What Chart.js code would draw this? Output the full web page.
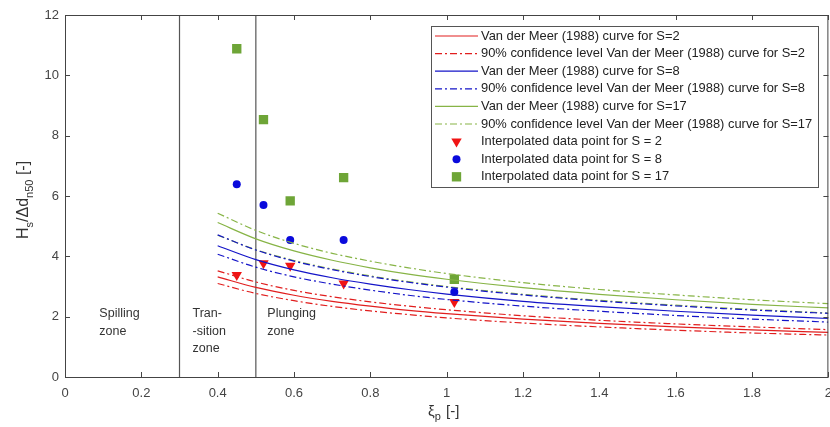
<!DOCTYPE html>
<html>
<head>
<meta charset="utf-8">
<script src="https://cdn.jsdelivr.net/npm/chart.js@4.4.0/dist/chart.umd.min.js"></script>
<style>
  html, body { margin: 0; padding: 0; background: #fff; overflow: hidden; }
  #wrap { width: 830px; height: 427px; overflow: hidden; }
</style>
</head>
<body>
<div id="wrap"><canvas id="grafica" width="841" height="427"></canvas></div>
<script>
// valores de xi (eje x) para las curvas
const xi = [0.4, 0.5, 0.6, 0.7, 0.8, 0.9, 1.0, 1.2, 1.4, 1.6, 1.8, 2.0];

// curvas Van der Meer (1988)
const rojo      = [3.32, 2.97, 2.71, 2.51, 2.35, 2.21, 2.10, 1.92, 1.78, 1.66, 1.56, 1.48];
const rojoSup   = [3.52, 3.15, 2.87, 2.66, 2.49, 2.35, 2.23, 2.03, 1.88, 1.76, 1.66, 1.57];
const rojoInf   = [3.10, 2.77, 2.53, 2.34, 2.19, 2.07, 1.96, 1.79, 1.66, 1.55, 1.46, 1.39];
const azul      = [4.35, 3.89, 3.55, 3.29, 3.08, 2.90, 2.75, 2.51, 2.33, 2.18, 2.05, 1.94];
const azulSup   = [4.71, 4.21, 3.84, 3.56, 3.33, 3.14, 2.98, 2.72, 2.52, 2.36, 2.22, 2.11];
const azulInf   = [4.07, 3.64, 3.32, 3.08, 2.88, 2.71, 2.57, 2.35, 2.18, 2.04, 1.92, 1.82];
const verde     = [5.12, 4.58, 4.18, 3.87, 3.62, 3.41, 3.24, 2.96, 2.74, 2.56, 2.41, 2.29];
const verdeSup  = [5.43, 4.86, 4.43, 4.10, 3.84, 3.62, 3.43, 3.13, 2.90, 2.72, 2.56, 2.43];
const verdeInf  = [4.70, 4.22, 3.86, 3.58, 3.35, 3.16, 3.00, 2.74, 2.54, 2.38, 2.24, 2.12];

// puntos interpolados
const xiPuntos  = [0.45, 0.52, 0.59, 0.73, 1.02];
const puntosS2  = [3.38, 3.77, 3.69, 3.10, 2.49];
const puntosS8  = [6.39, 5.70, 4.54, 4.54, 2.82];
const puntosS17 = [10.88, 8.53, 5.84, 6.61, 3.24];

// limites de zonas
const limitesZona = [0.3, 0.5];
const zonas = [
  { x: 0.09, lineas: ["Spilling", "zone"] },
  { x: 0.334, lineas: ["Tran-", "-sition", "zone"] },
  { x: 0.53, lineas: ["Plunging", "zone"] }
];

const xTicks = [0, 0.2, 0.4, 0.6, 0.8, 1, 1.2, 1.4, 1.6, 1.8, 2];
const yTicks = [0, 2, 4, 6, 8, 10, 12];

const ROJO = "rgb(225, 30, 30)";
const AZUL = "rgb(20, 20, 200)";
const VERDE = "rgb(135, 180, 70)";
const GUION_PUNTO = [7, 3, 2, 3];

const pares = (xs, ys) => xs.map((x, i) => ({ x: x, y: ys[i] }));

function curva(label, ys, color, dash) {
  return {
    label: label,
    data: pares(xi, ys),
    showLine: true,
    borderColor: color,
    backgroundColor: color,
    borderWidth: 1.2,
    borderDash: dash || [],
    pointRadius: 0,
    cubicInterpolationMode: "monotone",
    fill: false
  };
}

function marcadores(label, ys, color, estilo, radio, rot) {
  return {
    label: label,
    data: pares(xiPuntos, ys),
    showLine: false,
    backgroundColor: color,
    borderColor: color,
    borderWidth: 0,
    pointStyle: estilo,
    pointRadius: radio,
    pointRotation: rot || 0
  };
}

function limite(x) {
  return {
    label: "",
    esLimite: true,
    data: [{ x: x, y: 0 }, { x: x, y: 12 }],
    showLine: true,
    borderColor: "#555",
    borderWidth: 1.2,
    pointRadius: 0
  };
}

const datasets = [
  curva("Van der Meer (1988) curve for S=2", rojo, ROJO),
  curva("90% confidence level Van der Meer (1988) curve for S=2", rojoSup, ROJO, GUION_PUNTO),
  curva("", rojoInf, ROJO, GUION_PUNTO),
  curva("Van der Meer (1988) curve for S=8", azul, AZUL),
  curva("90% confidence level Van der Meer (1988) curve for S=8", azulSup, AZUL, GUION_PUNTO),
  curva("", azulInf, AZUL, GUION_PUNTO),
  curva("Van der Meer (1988) curve for S=17", verde, VERDE),
  curva("90% confidence level Van der Meer (1988) curve for S=17", verdeSup, VERDE, GUION_PUNTO),
  curva("", verdeInf, VERDE, GUION_PUNTO),
  marcadores("Interpolated data point for S = 2", puntosS2, "rgb(240, 20, 20)", "triangle", 6, 180),
  marcadores("Interpolated data point for S = 8", puntosS8, "rgb(10, 10, 220)", "circle", 4),
  marcadores("Interpolated data point for S = 17", puntosS17, "rgb(110, 165, 55)", "rect", 6.6),
  limite(limitesZona[0]),
  limite(limitesZona[1])
];

const FUENTE = "'Liberation Sans', Arial, sans-serif";

// dibuja caja, marcas interiores, leyenda, textos de zona y titulos de ejes
const estiloMatlab = {
  id: "estiloMatlab",
  afterDraw(chart) {
    const ctx = chart.ctx;
    const a = chart.chartArea;
    const sx = chart.scales.x, sy = chart.scales.y;
    ctx.save();

    // caja
    ctx.strokeStyle = "#444";
    ctx.lineWidth = 1;
    ctx.strokeRect(a.left + 0.5, a.top + 0.5, a.right - a.left - 1, a.bottom - a.top);

    // marcas
    ctx.beginPath();
    xTicks.forEach(v => {
      const px = Math.round(sx.getPixelForValue(v)) + 0.5;
      ctx.moveTo(px, a.bottom); ctx.lineTo(px, a.bottom - 5);
      ctx.moveTo(px, a.top); ctx.lineTo(px, a.top + 5);
    });
    yTicks.forEach(v => {
      const py = Math.round(sy.getPixelForValue(v)) + 0.5;
      ctx.moveTo(a.left, py); ctx.lineTo(a.left + 5, py);
      ctx.moveTo(a.right, py); ctx.lineTo(a.right - 5, py);
    });
    ctx.stroke();

    // textos de zonas
    ctx.fillStyle = "#333";
    ctx.font = "12.5px " + FUENTE;
    ctx.textAlign = "left";
    ctx.textBaseline = "middle";
    zonas.forEach(z => {
      const px = sx.getPixelForValue(z.x);
      z.lineas.forEach((t, i) => ctx.fillText(t, px, 314 + i * 17.5));
    });

    // leyenda
    const lx = 431, ly = 26, lw = 387, lh = 161;
    ctx.fillStyle = "#fff";
    ctx.fillRect(lx, ly, lw, lh);
    ctx.strokeStyle = "#555";
    ctx.strokeRect(lx + 0.5, ly + 0.5, lw, lh);
    const entradas = chart.data.datasets.filter(d => d.label && !d.esLimite);
    entradas.forEach((d, i) => {
      const cy = 36 + i * 17.6;
      if (d.showLine) {
        ctx.strokeStyle = d.borderColor;
        ctx.lineWidth = 1.2;
        ctx.setLineDash(d.borderDash || []);
        ctx.beginPath();
        ctx.moveTo(435, cy); ctx.lineTo(478, cy);
        ctx.stroke();
        ctx.setLineDash([]);
      } else {
        ctx.fillStyle = d.backgroundColor;
        Chart.helpers.drawPoint(ctx, {
          pointStyle: d.pointStyle, radius: d.pointRadius, rotation: d.pointRotation,
          borderWidth: 0
        }, 456.5, cy);
      }
      ctx.fillStyle = "#222";
      ctx.font = "12.9px " + FUENTE;
      ctx.textAlign = "left";
      ctx.textBaseline = "middle";
      ctx.fillText(d.label, 481, cy);
    });

    // titulo eje x: xi_p [-]
    ctx.fillStyle = "#333";
    ctx.textBaseline = "alphabetic";
    let x0 = 428, y0 = 416;
    ctx.font = "15px " + FUENTE;
    ctx.fillText("ξ", x0, y0);
    x0 += ctx.measureText("ξ").width;
    ctx.font = "11px " + FUENTE;
    ctx.fillText("p", x0, y0 + 4);
    x0 += ctx.measureText("p").width + 1;
    ctx.font = "15px " + FUENTE;
    ctx.fillText(" [-]", x0, y0);

    // titulo eje y: H_s/Δd_n50 [-]
    ctx.translate(28, 239);
    ctx.rotate(-Math.PI / 2);
    const partes = [
      ["H", 16, 0], ["s", 11, 5], ["/Δd", 16, 0], ["n50", 11, 5], [" [-]", 16, 0]
    ];
    let px = 0;
    partes.forEach(p => {
      ctx.font = p[1] + "px " + FUENTE;
      ctx.fillText(p[0], px, p[2]);
      px += ctx.measureText(p[0]).width;
    });

    ctx.restore();
  }
};

const ctx = document.getElementById("grafica").getContext("2d");
const chart = new Chart(ctx, {
  type: "scatter",
  data: { datasets: datasets },
  options: {
    responsive: false,
    animation: false,
    devicePixelRatio: 1,
    layout: { padding: { top: 15, right: 0, left: 0, bottom: 0 } },
    plugins: {
      legend: { display: false },
      tooltip: { enabled: false }
    },
    scales: {
      x: {
        type: "linear",
        min: 0, max: 2,
        afterBuildTicks: s => { s.ticks = xTicks.map(v => ({ value: v })); },
        afterFit: s => { s.height = 50; },
        grid: { display: false, drawTicks: false },
        border: { display: false },
        ticks: {
          color: "#444", padding: 9,
          font: { family: FUENTE, size: 13 },
          callback: v => String(+v.toFixed(1))
        }
      },
      y: {
        type: "linear",
        min: 0, max: 12,
        afterBuildTicks: s => { s.ticks = yTicks.map(v => ({ value: v })); },
        afterFit: s => { s.width = 65; },
        grid: { display: false, drawTicks: false },
        border: { display: false },
        ticks: {
          color: "#444", padding: 6,
          font: { family: FUENTE, size: 13 }
        }
      }
    }
  },
  plugins: [estiloMatlab]
});
</script>
</body>
</html>
